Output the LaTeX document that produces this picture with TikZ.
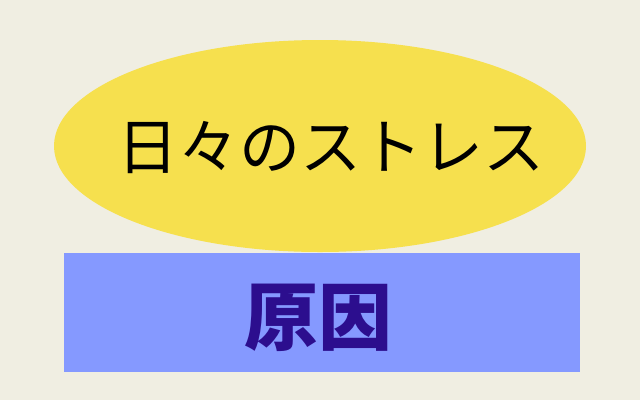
\documentclass[tikz,border=0pt]{standalone}
\usepackage{fontspec}
\newfontfamily\cjk{Noto Sans CJK JP}
\usetikzlibrary{shapes.geometric}
\definecolor{paper}{RGB}{240, 238, 226}
\definecolor{yellow_fill}{RGB}{246, 224, 78}
\definecolor{blue_fill}{RGB}{133, 153, 255}
\definecolor{dark_purple}{RGB}{44, 14, 142}

\begin{document}
\begin{tikzpicture}[x=1pt, y=-1pt]
        \fill[paper] (0,0) rectangle (640,400);
        \useasboundingbox (0,0) rectangle (640,400);

        \node[shape=ellipse, fill=yellow_fill, minimum width=532pt, minimum height=212pt, inner sep=0pt] (stress) at (320,146) {};
        \node[font=\cjk\fontsize{61}{61}\selectfont, inner sep=0pt] (stress_text) at (331,148) {日々のストレス};

        \node[shape=rectangle, fill=blue_fill, minimum width=516pt, minimum height=119pt, inner sep=0pt] (cause) at (322,312) {};
        \node[font=\cjk\bfseries\fontsize{74}{74}\selectfont, text=dark_purple, inner sep=0pt] (cause_text) at (318,318) {原因};

\end{tikzpicture}
\end{document}
